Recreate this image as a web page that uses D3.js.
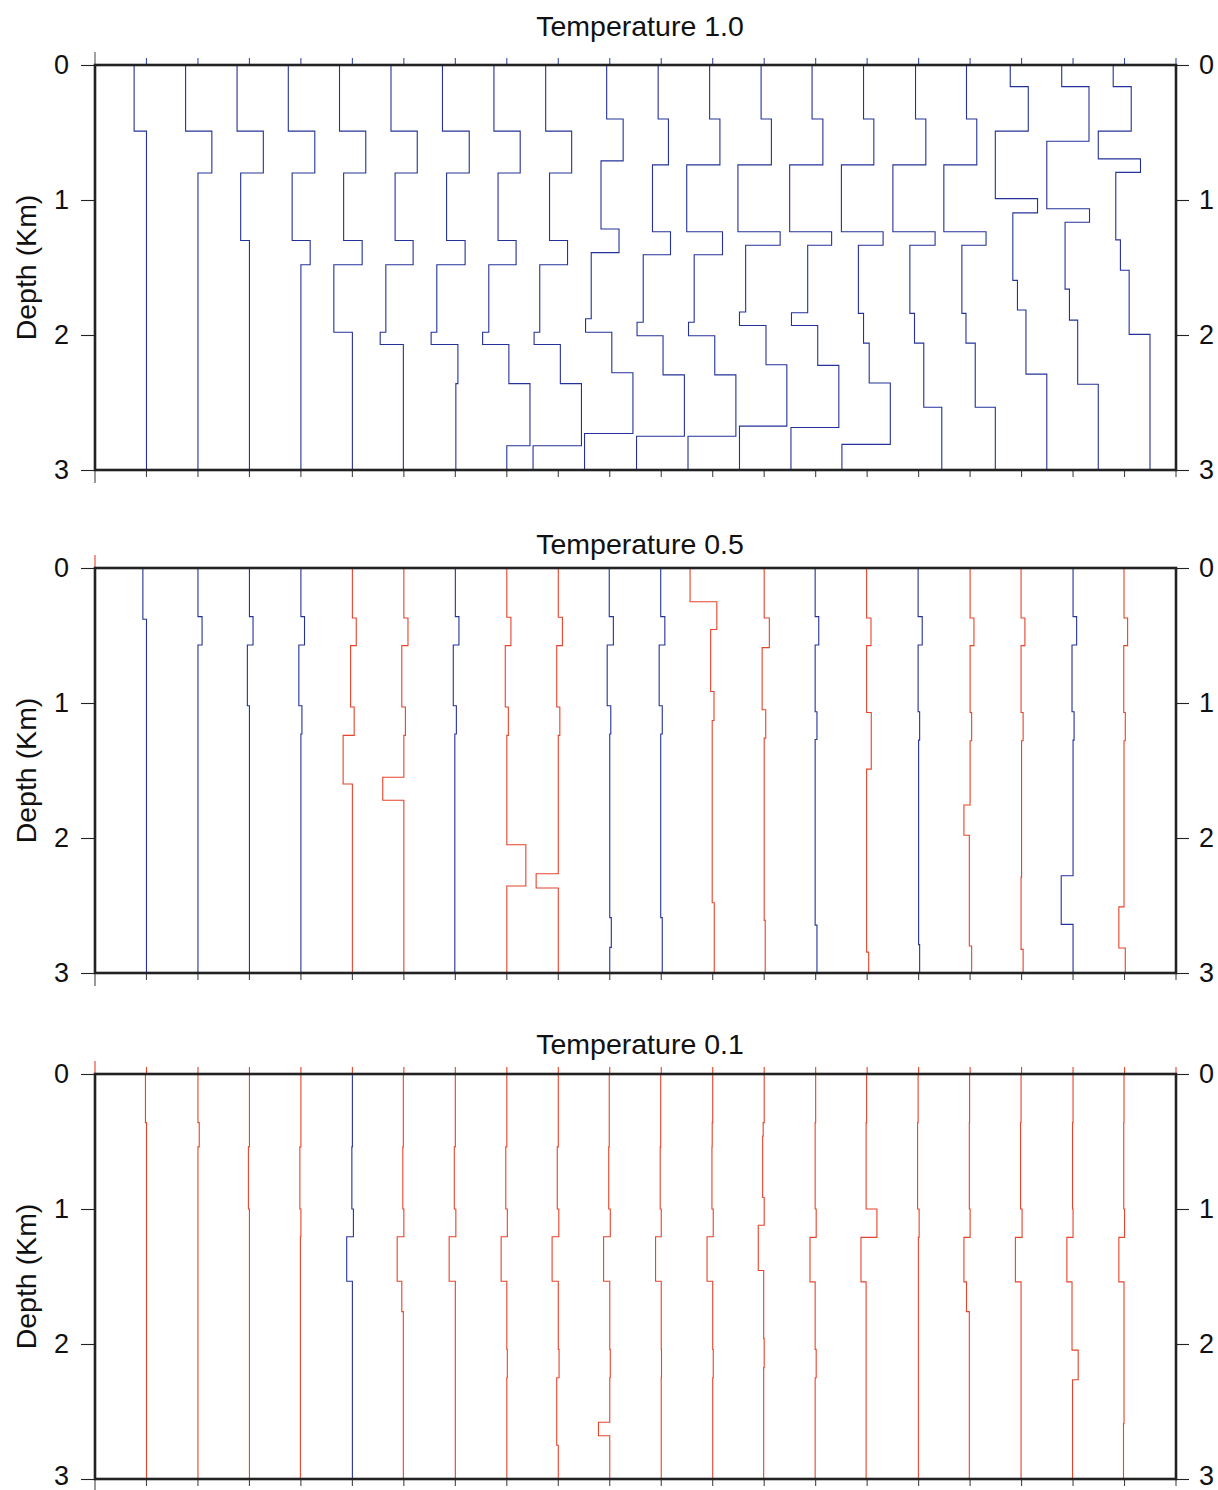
<!DOCTYPE html>
<html>
<head>
<meta charset="utf-8">
<script src="https://cdn.jsdelivr.net/npm/d3@7"></script>
<style>
  html, body { margin: 0; padding: 0; background: #fff; }
  svg { display: block; }
  text { font-family: "Liberation Sans", Arial, Helvetica, sans-serif; fill: #111; }
</style>
</head>
<body>
<svg id="chart" width="1218" height="1490"></svg>
<script>
// ---------------- DATA ----------------
const panelTitles = ["Temperature 1.0", "Temperature 0.5", "Temperature 0.1"];
const depthTicks = [0, 1, 2, 3];
const yLabel = "Depth (Km)";
const profileCount = 20;

// Each profile: layer offsets (relative to its baseline index) and interface depths (km)
const profilesT10 = [
  { off: [-0.24, 0.00], z: [0.49] },
  { off: [-0.24, 0.27, 0.00], z: [0.49, 0.80] },
  { off: [-0.24, 0.27, -0.17, 0.00], z: [0.49, 0.80, 1.30] },
  { off: [-0.245, 0.27, -0.17, 0.18, 0.00], z: [0.49, 0.80, 1.30, 1.48] },
  { off: [-0.25, 0.26, -0.17, 0.19, -0.36, 0.00], z: [0.49, 0.80, 1.30, 1.48, 1.98] },
  { off: [-0.25, 0.26, -0.17, 0.18, -0.35, -0.46, -0.01], z: [0.49, 0.80, 1.30, 1.48, 1.98, 2.07] },
  { off: [-0.25, 0.27, -0.17, 0.19, -0.36, -0.47, 0.05, 0.01], z: [0.49, 0.80, 1.30, 1.48, 1.98, 2.07, 2.36] },
  { off: [-0.25, 0.26, -0.17, 0.18, -0.35, -0.47, 0.04, 0.45, 0.00], z: [0.49, 0.80, 1.30, 1.48, 1.98, 2.07, 2.36, 2.82] },
  { off: [-0.245, 0.26, -0.17, 0.18, -0.36, -0.47, 0.04, 0.45, -0.49], z: [0.49, 0.80, 1.30, 1.48, 1.98, 2.07, 2.36, 2.82] },
  { off: [-0.06, 0.26, -0.17, 0.18, -0.36, -0.47, 0.04, 0.45, -0.49], z: [0.40, 0.71, 1.215, 1.39, 1.88, 1.98, 2.28, 2.73] },
  { off: [-0.06, 0.14, -0.17, 0.18, -0.35, -0.47, 0.035, 0.45, -0.48], z: [0.40, 0.74, 1.235, 1.405, 1.905, 2.005, 2.295, 2.75] },
  { off: [-0.06, 0.14, -0.505, 0.19, -0.36, -0.47, 0.04, 0.45, -0.48], z: [0.40, 0.74, 1.235, 1.405, 1.905, 2.005, 2.295, 2.75] },
  { off: [-0.06, 0.14, -0.51, 0.31, -0.36, -0.48, 0.035, 0.44, -0.48], z: [0.40, 0.74, 1.235, 1.335, 1.83, 1.93, 2.22, 2.675] },
  { off: [-0.07, 0.14, -0.505, 0.31, -0.155, -0.47, 0.04, 0.45, -0.48], z: [0.40, 0.74, 1.235, 1.335, 1.835, 1.93, 2.225, 2.685] },
  { off: [-0.07, 0.13, -0.50, 0.31, -0.17, -0.07, 0.04, 0.45, -0.49], z: [0.40, 0.74, 1.235, 1.335, 1.84, 2.06, 2.355, 2.81] },
  { off: [-0.06, 0.14, -0.50, 0.32, -0.17, -0.08, 0.10, 0.45], z: [0.40, 0.74, 1.235, 1.335, 1.84, 2.06, 2.535] },
  { off: [-0.07, 0.13, -0.51, 0.31, -0.16, -0.08, 0.10, 0.49], z: [0.40, 0.74, 1.235, 1.335, 1.84, 2.06, 2.535] },
  { off: [-0.22, 0.13, -0.51, 0.31, -0.17, -0.08, 0.085, 0.49], z: [0.16, 0.49, 0.99, 1.095, 1.595, 1.815, 2.29] },
  { off: [-0.22, 0.31, -0.51, 0.32, -0.155, -0.07, 0.09, 0.49], z: [0.16, 0.565, 1.065, 1.165, 1.66, 1.89, 2.365] },
  { off: [-0.22, 0.13, -0.51, 0.31, -0.17, -0.08, 0.09, 0.495], z: [0.16, 0.49, 0.695, 0.795, 1.295, 1.52, 1.995] }
];

const profilesT05 = [
  { off: [-0.07, 0.00], z: [0.38] },
  { off: [0.00, 0.08, 0.00], z: [0.36, 0.57] },
  { off: [0.00, 0.07, -0.04, 0.00], z: [0.36, 0.57, 1.02] },
  { off: [0.00, 0.07, -0.04, 0.02, 0.00], z: [0.36, 0.57, 1.02, 1.23] },
  { off: [0.00, 0.075, -0.035, 0.035, -0.18, 0.00], z: [0.37, 0.575, 1.03, 1.24, 1.60] },
  { off: [0.00, 0.08, -0.04, 0.03, 0.00, -0.41, 0.00], z: [0.37, 0.575, 1.03, 1.24, 1.55, 1.72] },
  { off: [0.00, 0.07, -0.04, 0.02, -0.01], z: [0.36, 0.57, 1.02, 1.23] },
  { off: [0.00, 0.08, -0.03, 0.03, 0.00, 0.37, 0.00], z: [0.365, 0.575, 1.03, 1.24, 2.05, 2.355] },
  { off: [0.00, 0.08, -0.03, 0.03, 0.00, -0.43, 0.00], z: [0.365, 0.575, 1.03, 1.24, 2.265, 2.37] },
  { off: [-0.01, 0.07, -0.05, 0.02, 0.00, 0.03, 0.00], z: [0.36, 0.57, 1.02, 1.23, 2.59, 2.81] },
  { off: [-0.01, 0.07, -0.04, 0.02, -0.01, 0.02], z: [0.36, 0.57, 1.02, 1.23, 2.59] },
  { off: [-0.44, 0.08, -0.04, 0.025, -0.01, 0.03], z: [0.25, 0.455, 0.915, 1.13, 2.48] },
  { off: [0.00, 0.10, -0.04, 0.03, 0.00, 0.02], z: [0.37, 0.59, 1.05, 1.26, 2.61] },
  { off: [-0.01, 0.06, -0.01, 0.025, -0.01, 0.025], z: [0.36, 0.57, 1.065, 1.27, 2.645] },
  { off: [-0.01, 0.075, -0.01, 0.08, -0.01, 0.03], z: [0.37, 0.575, 1.07, 1.49, 2.845] },
  { off: [-0.01, 0.07, -0.01, 0.02, 0.00, 0.02], z: [0.36, 0.57, 1.065, 1.275, 2.79] },
  { off: [0.00, 0.075, 0.00, 0.03, 0.00, -0.12, -0.015, 0.03], z: [0.37, 0.575, 1.07, 1.28, 1.755, 1.98, 2.80] },
  { off: [-0.01, 0.065, -0.01, 0.03, 0.00, -0.01, 0.03], z: [0.37, 0.575, 1.07, 1.28, 2.29, 2.825] },
  { off: [0.00, 0.07, -0.02, 0.02, 0.00, -0.23, 0.00], z: [0.36, 0.57, 1.065, 1.275, 2.28, 2.64] },
  { off: [-0.01, 0.06, -0.015, 0.015, -0.01, -0.11, 0.015], z: [0.37, 0.575, 1.07, 1.28, 2.51, 2.815] }
];

const profilesT01 = [
  { off: [-0.02, 0.00], z: [0.36] },
  { off: [0.00, 0.025, 0.00], z: [0.36, 0.54] },
  { off: [0.00, -0.02, 0.00], z: [0.54, 1.00] },
  { off: [0.00, -0.02, 0.00, -0.01], z: [0.54, 1.00, 1.205] },
  { off: [0.00, -0.01, 0.02, -0.11, 0.00], z: [0.54, 1.00, 1.205, 1.535] },
  { off: [-0.01, -0.02, 0.00, -0.13, -0.04, -0.01], z: [0.54, 1.00, 1.205, 1.535, 1.76] },
  { off: [0.00, -0.02, 0.01, -0.12, 0.00], z: [0.54, 1.00, 1.205, 1.535] },
  { off: [0.00, -0.02, 0.01, -0.11, 0.00, 0.01, 0.00], z: [0.54, 1.00, 1.205, 1.535, 2.04, 2.25] },
  { off: [0.00, -0.02, 0.01, -0.12, 0.00, 0.015, -0.03, 0.00], z: [0.54, 1.00, 1.205, 1.535, 2.04, 2.25, 2.75] },
  { off: [-0.01, -0.02, 0.01, -0.12, 0.00, 0.01, 0.00, -0.22, 0.00], z: [0.54, 1.00, 1.205, 1.535, 2.04, 2.25, 2.58, 2.68] },
  { off: [-0.01, -0.02, 0.00, -0.11, 0.00, 0.005, 0.00], z: [0.54, 1.00, 1.205, 1.535, 2.04, 2.25] },
  { off: [0.00, -0.01, -0.015, 0.01, -0.11, 0.00, 0.01, 0.00], z: [0.36, 0.54, 1.00, 1.205, 1.535, 2.04, 2.25] },
  { off: [0.00, -0.02, -0.03, 0.00, -0.115, -0.01, 0.00, -0.01], z: [0.36, 0.46, 0.915, 1.12, 1.455, 1.96, 2.175] },
  { off: [0.00, -0.01, 0.01, -0.11, -0.01, 0.01, -0.01], z: [0.36, 1.00, 1.21, 1.54, 2.04, 2.25] },
  { off: [-0.01, -0.02, 0.19, -0.12, -0.02], z: [0.36, 1.00, 1.21, 1.54] },
  { off: [-0.01, -0.02, 0.01, -0.005], z: [0.36, 1.00, 1.21] },
  { off: [-0.01, -0.015, 0.00, -0.12, -0.07, -0.015], z: [0.36, 1.00, 1.21, 1.54, 1.76] },
  { off: [-0.01, -0.02, 0.01, -0.12, -0.01], z: [0.36, 1.00, 1.21, 1.54] },
  { off: [0.00, -0.01, 0.00, -0.12, -0.02, 0.10, -0.01], z: [0.36, 1.00, 1.21, 1.54, 2.045, 2.265] },
  { off: [-0.01, -0.015, 0.00, -0.11, -0.01, -0.02], z: [0.36, 1.00, 1.21, 1.54, 2.59] }
];

// "B" = blue, "R" = red
const colorsT10 = "BBBBBBBBBBBBBBBBBBBB".split("");
const colorsT05 = "BBBBRRBRRBBRRBRBRRBR".split("");
const colorsT01 = "RRRRBRRRRRRRRRRRRRRR".split("");

const panelProfiles = [profilesT10, profilesT05, profilesT01];
const panelColors = [colorsT10, colorsT05, colorsT01];

// ---------------- STYLE / LAYOUT ----------------
const COLORS = { B: "#25329a", R: "#e8432b" };
const frameLeft = 95, frameRight = 1176;
const panelTops = [65, 568, 1074];
const panelHeight = 405;
const titleY = [36, 554, 1054];
const topTickColor = ["#3a4aa8", "#e8432b", "#e8432b"];
const FONT = '"Liberation Sans", Arial, Helvetica, sans-serif';

const svg = d3.select("#chart");
const x = d3.scaleLinear().domain([0, profileCount + 1]).range([frameLeft, frameRight]);

panelProfiles.forEach((profiles, p) => {
  const top = panelTops[p];
  const y = d3.scaleLinear().domain([0, 3]).range([top, top + panelHeight]);
  const g = svg.append("g");

  // title
  g.append("text")
    .attr("x", 640)
    .attr("y", titleY[p])
    .attr("text-anchor", "middle")
    .style("font-size", "28.5px")
    .text(panelTitles[p]);

  // y label
  g.append("text")
    .attr("transform", `translate(36,${top + panelHeight / 2}) rotate(-90)`)
    .attr("text-anchor", "middle")
    .style("font-size", "28.5px")
    .text(yLabel);

  // profiles
  const line = d3.line().x(d => x(d[0])).y(d => y(d[1]));
  profiles.forEach((pr, i) => {
    const base = i + 1;
    const pts = [];
    pr.off.forEach((o, j) => {
      const z0 = j === 0 ? 0 : pr.z[j - 1];
      const z1 = j === pr.z.length ? 3 : pr.z[j];
      pts.push([base + o, z0], [base + o, z1]);
    });
    g.append("path")
      .attr("d", line(pts))
      .attr("fill", "none")
      .attr("stroke", COLORS[panelColors[p][i]])
      .attr("stroke-width", 1.1)
      .attr("stroke-linejoin", "miter");
  });

  // top ticks at baselines
  const topIdx = p === 1 ? [0] : d3.range(p === 0 ? 1 : 0, profileCount + 2);
  g.selectAll(".ttick").data(topIdx).join("line")
    .attr("x1", d => x(d)).attr("x2", d => x(d))
    .attr("y1", top).attr("y2", d => top - (d === 0 && p > 0 ? 13 : 7))
    .attr("stroke", topTickColor[p]).attr("stroke-width", 1.1);

  // bottom ticks
  const bottom = top + panelHeight;
  g.selectAll(".btick").data(d3.range(0, profileCount + 2)).join("line")
    .attr("x1", d => x(d)).attr("x2", d => x(d))
    .attr("y1", bottom).attr("y2", d => bottom + (d === 0 ? 13 : 7))
    .attr("stroke", "#444").attr("stroke-width", 1.1);

  // left / right axes
  const axL = g.append("g").attr("transform", `translate(${frameLeft},0)`)
    .call(d3.axisLeft(y).tickValues(depthTicks).tickFormat(d3.format("d")).tickSize(14).tickPadding(12));
  const axR = g.append("g").attr("transform", `translate(${frameRight},0)`)
    .call(d3.axisRight(y).tickValues(depthTicks).tickFormat(d3.format("d")).tickSize(13).tickPadding(10));
  [axL, axR].forEach(ax => {
    ax.select(".domain").remove();
    ax.selectAll(".tick line").attr("stroke", "#222").attr("stroke-width", 1.1);
    ax.selectAll(".tick text").style("font-size", "27px").attr("fill", "#111")
      .style("font-family", FONT)
      .attr("dy", d => (p === 2 && d === 3) ? "0.2em" : "0.32em");
  });

  // left axis extension above the frame (panel 1)
  if (p === 0) {
    g.append("line").attr("x1", frameLeft).attr("x2", frameLeft)
      .attr("y1", top - 13).attr("y2", top).attr("stroke", "#555").attr("stroke-width", 1.1);
  }

  // frame
  g.append("rect")
    .attr("x", frameLeft).attr("y", top)
    .attr("width", frameRight - frameLeft).attr("height", panelHeight)
    .attr("fill", "none").attr("stroke", "#222").attr("stroke-width", 2.6);
});
</script>
</body>
</html>
